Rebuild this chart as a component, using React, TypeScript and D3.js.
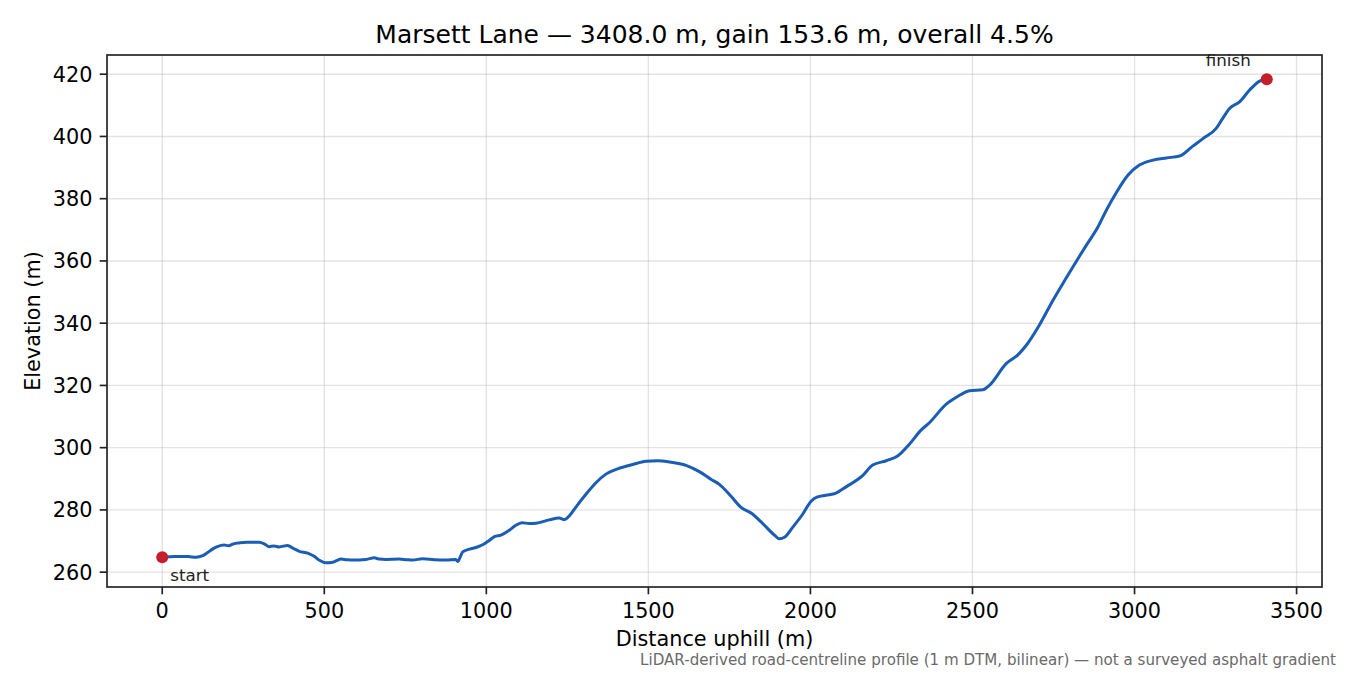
import React from "react";
import * as d3 from "d3";

const distances = [
  0, 40, 80, 104, 125, 140, 155, 170, 191, 205, 220, 238, 260, 299, 315, 330, 345, 361, 387, 405,
  423, 449, 470, 485, 505, 526, 540, 551, 570, 587, 629, 654, 670, 690, 731, 755, 773, 803, 840, 876,
  906, 912, 920, 927, 948, 970, 989, 1009, 1025, 1045, 1071, 1090, 1110, 1133, 1153, 1194, 1225, 1241, 1256, 1277,
  1308, 1339, 1369, 1405, 1452, 1493, 1529, 1565, 1616, 1657, 1694, 1719, 1755, 1786, 1817, 1853, 1889, 1904, 1920, 1945,
  1976, 2002, 2020, 2048, 2079, 2110, 2161, 2192, 2234, 2270, 2306, 2342, 2367, 2419, 2450, 2491, 2532, 2552, 2604, 2640,
  2666, 2707, 2748, 2789, 2830, 2851, 2887, 2913, 2944, 2980, 3015, 3057, 3098, 3139, 3180, 3211, 3252, 3272, 3293, 3324,
  3355, 3386, 3408,
];
const elevations = [
  264.8, 265.0, 265.0, 264.8, 265.3, 266.3, 267.4, 268.2, 268.7, 268.5, 269.1, 269.4, 269.6, 269.6, 269.1, 268.2, 268.4, 268.1, 268.6, 267.6,
  266.7, 266.1, 265.0, 263.8, 263.0, 263.2, 263.8, 264.2, 264.0, 263.9, 264.1, 264.6, 264.2, 264.1, 264.2, 264.0, 263.9, 264.3, 264.0, 263.9,
  264.1, 263.4, 265.0, 266.5, 267.4, 268.0, 268.8, 270.2, 271.4, 271.9, 273.5, 275.0, 275.9, 275.6, 275.7, 276.8, 277.4, 276.9, 278.1, 281.0,
  285.1, 288.8, 291.5, 293.2, 294.6, 295.6, 295.8, 295.4, 294.3, 292.3, 289.8, 288.2, 284.4, 280.8, 279.0, 275.6, 271.9, 270.7, 271.2, 274.4,
  278.6, 282.8, 284.1, 284.7, 285.4, 287.4, 291.0, 294.4, 295.8, 297.4, 301.2, 305.7, 308.0, 314.0, 316.2, 318.3, 318.6, 320.0, 327.0, 329.8,
  332.9, 339.5, 347.3, 354.5, 361.5, 365.0, 370.9, 376.3, 382.0, 387.6, 390.8, 392.4, 393.1, 393.7, 396.9, 399.3, 402.6, 405.8, 409.0, 411.1,
  414.9, 417.8, 418.4,
];
const xTicks = [0, 500, 1000, 1500, 2000, 2500, 3000, 3500];
const yTicks = [260, 280, 300, 320, 340, 360, 380, 400, 420];
const titleText = "Marsett Lane — 3408.0 m, gain 153.6 m, overall 4.5%";
const xLabel = "Distance uphill (m)";
const yLabel = "Elevation (m)";
const noteText = "LiDAR-derived road-centreline profile (1 m DTM, bilinear) — not a surveyed asphalt gradient";

const W = 1350;
const H = 675;
const M = { left: 107, right: 1322, top: 55, bottom: 587 };
const FONT = "DejaVu Sans, sans-serif";

export default function App() {
  const pts = distances.map((d, i) => [d, elevations[i]] as [number, number]);
  const [x0, x1] = d3.extent(distances) as [number, number];
  const [y0, y1] = d3.extent(elevations) as [number, number];
  const px = (x1 - x0) * 0.05;
  const py = (y1 - y0) * 0.05;
  const x = d3.scaleLinear().domain([x0 - px, x1 + px]).range([M.left, M.right]);
  const y = d3.scaleLinear().domain([y0 - py, y1 + py]).range([M.bottom, M.top]);
  const line = d3
    .line<[number, number]>()
    .x((d) => x(d[0]))
    .y((d) => y(d[1]))
    .curve(d3.curveMonotoneX);
  const first = pts[0];
  const last = pts[pts.length - 1];
  const red = "#c41e2a";
  return (
    <div style={{ position: "absolute", left: 0, top: 0 }}>
      <svg width={W} height={H} style={{ display: "block", background: "#fff" }} fontFamily={FONT}>
        <rect x={0} y={0} width={W} height={H} fill="#fff" />
        {/* grid */}
        {xTicks.map((t) => (
          <line key={"gx" + t} x1={x(t)} x2={x(t)} y1={M.top} y2={M.bottom} stroke="#b0b0b0" strokeOpacity={0.35} strokeWidth={1.4} />
        ))}
        {yTicks.map((t) => (
          <line key={"gy" + t} x1={M.left} x2={M.right} y1={y(t)} y2={y(t)} stroke="#b0b0b0" strokeOpacity={0.35} strokeWidth={1.4} />
        ))}
        {/* profile */}
        <path d={line(pts) || ""} fill="none" stroke="#1a5db4" strokeWidth={3} strokeLinejoin="round" strokeLinecap="round" />
        {/* endpoints */}
        <circle cx={x(first[0])} cy={y(first[1])} r={6} fill={red} />
        <circle cx={x(last[0])} cy={y(last[1])} r={6} fill={red} />
        <text x={x(first[0]) + 8} y={y(first[1]) + 24} fontSize={16.7} fill="#222">start</text>
        <text x={x(last[0]) - 16} y={y(last[1]) - 13} fontSize={16.7} fill="#222" textAnchor="end">finish</text>
        {/* spines */}
        <rect x={M.left} y={M.top} width={M.right - M.left} height={M.bottom - M.top} fill="none" stroke="#222" strokeWidth={1.67} />
        {/* x ticks */}
        {xTicks.map((t) => (
          <g key={"xt" + t}>
            <line x1={x(t)} x2={x(t)} y1={M.bottom} y2={M.bottom + 7.3} stroke="#222" strokeWidth={1.67} />
            <text x={x(t)} y={M.bottom + 30.5} fontSize={20.8} textAnchor="middle" fill="#000">{t}</text>
          </g>
        ))}
        {/* y ticks */}
        {yTicks.map((t) => (
          <g key={"yt" + t}>
            <line x1={M.left - 7.3} x2={M.left} y1={y(t)} y2={y(t)} stroke="#222" strokeWidth={1.67} />
            <text x={M.left - 14.6} y={y(t)} dy="0.36em" fontSize={20.8} textAnchor="end" fill="#000">{t}</text>
          </g>
        ))}
        {/* labels */}
        <text x={(M.left + M.right) / 2} y={42.5} fontSize={25} textAnchor="middle" fill="#000">{titleText}</text>
        <text x={(M.left + M.right) / 2} y={646} fontSize={20.8} textAnchor="middle" fill="#000">{xLabel}</text>
        <text transform={`translate(40,${(M.top + M.bottom) / 2}) rotate(-90)`} fontSize={20.8} textAnchor="middle" fill="#000">{yLabel}</text>
        <text x={1336} y={664.5} fontSize={15.1} textAnchor="end" fill="#6a6a6a">{noteText}</text>
      </svg>
    </div>
  );
}
